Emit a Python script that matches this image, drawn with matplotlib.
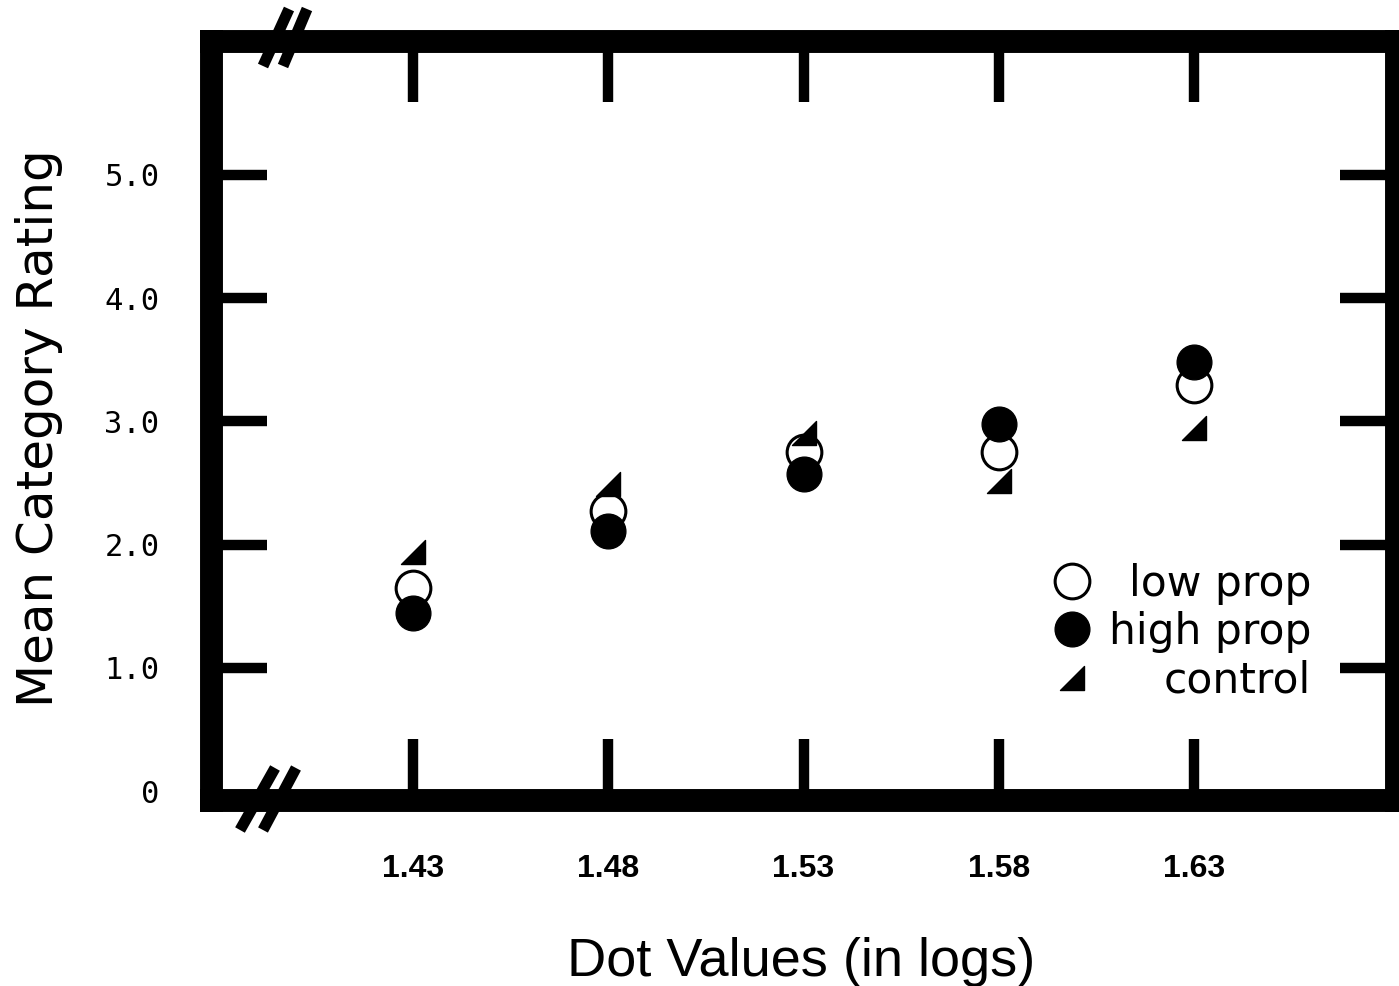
import numpy as np
import matplotlib
matplotlib.use("Agg")
import matplotlib.pyplot as plt
from matplotlib.path import Path
from matplotlib.lines import Line2D

# === Dados ===
dot_values = [1.43, 1.48, 1.53, 1.58, 1.63]
low_prop = [1.65, 2.27, 2.75, 2.75, 3.30]
high_prop = [1.45, 2.11, 2.57, 2.98, 3.48]
control = [1.94, 2.49, 2.91, 2.52, 2.95]

x_labels = ["1.43", "1.48", "1.53", "1.58", "1.63"]
y_ticks = [0, 1, 2, 3, 4, 5]
y_labels = ["0", "1.0", "2.0", "3.0", "4.0", "5.0"]

W, H = 1399, 986
fig = plt.figure(figsize=(W / 100, H / 100), dpi=100)
ax = fig.add_axes([211 / W, 1 - 800 / H, (1396 - 211) / W, (800 - 41) / H])
ax.set_xlim(1.3783, 1.6817)
ax.set_ylim(-0.071, 6.087)

# === moldura grossa ===
for s in ax.spines.values():
    s.set_linewidth(16.5)
    s.set_capstyle("projecting")

# === marcadores ===
ax.plot(dot_values, low_prop, linestyle="none", marker="o", markersize=25,
        markerfacecolor="white", markeredgecolor="black", markeredgewidth=2.2,
        label="low prop", clip_on=False)
ax.plot(dot_values, high_prop, linestyle="none", marker="o", markersize=25,
        color="black", label="high prop", clip_on=False)
wedge = Path([(-1, -1), (1, -1), (1, 1), (-1, -1)],
             [Path.MOVETO, Path.LINETO, Path.LINETO, Path.CLOSEPOLY])
ax.plot(dot_values, control, linestyle="none", marker=wedge, markersize=17,
        color="black", label="control", clip_on=False)

# === ticks ===
ax.set_xticks(dot_values, x_labels, fontfamily="Liberation Sans",
              fontweight="bold", fontsize=23)
ax.set_yticks(y_ticks, y_labels, fontfamily="DejaVu Sans Mono", fontsize=22)
ax.tick_params(axis="x", direction="in", top=True, bottom=True, length=44,
               width=7.5, pad=39, labeltop=False)
ax.tick_params(axis="y", direction="in", left=True, right=True, length=40,
               width=7.5, pad=37, labelright=False)
ax.yaxis.get_major_ticks()[0].tick1line.set_visible(False)
ax.yaxis.get_major_ticks()[0].tick2line.set_visible(False)

# === rotulos ===
ax.set_ylabel("Mean Category Rating", fontfamily="DejaVu Sans", fontsize=36)
ax.yaxis.set_label_coords(-0.125, 0.49)
ax.set_xlabel("Dot Values (in logs)", fontfamily="Liberation Sans", fontsize=39)
ax.xaxis.set_label_coords(0.498, -0.18)

# === legenda ===
leg = ax.legend(loc="center left", bbox_to_anchor=(0.709, 0.221), frameon=False,
                prop={"family": "DejaVu Sans", "size": 30.5}, handlelength=1.0,
                handletextpad=0.36, labelspacing=0.15, borderpad=0,
                borderaxespad=0)

# texto alinhado a direita
fig.canvas.draw()
texts = leg.get_texts()
widths = [t.get_window_extent().width for t in texts]
for t, w in zip(texts, widths):
    t.set_x(max(widths) - w)

# === marcas de quebra "//" ===
def px(x, y):
    return x / W, 1 - y / H

breaks = [((263, 66), (289, 9)), ((283, 66), (307, 9)),
          ((240, 830), (275, 768)), ((263, 830), (296, 768))]
for (x0, y0), (x1, y1) in breaks:
    a, b = px(x0, y0), px(x1, y1)
    fig.add_artist(Line2D([a[0], b[0]], [a[1], b[1]], transform=fig.transFigure,
                          lw=8, color="black", solid_capstyle="butt"))

fig.savefig("out.png", dpi=100)
